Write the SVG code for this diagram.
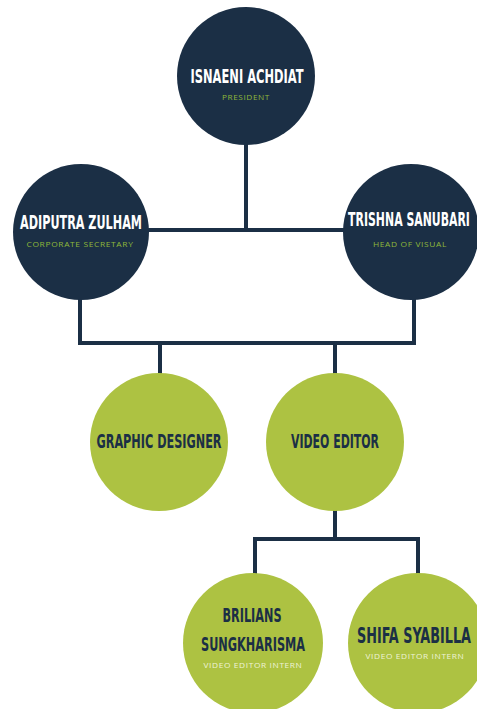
<svg xmlns="http://www.w3.org/2000/svg" width="477" height="709" viewBox="0 0 477 709">
<style>
.dark{fill:#1b2f45}
.lime{fill:#adc242}
.conn{fill:none;stroke:#1b2f45;stroke-width:4;stroke-linejoin:miter;stroke-linecap:square}
.name{font-family:"DejaVu Sans Condensed","DejaVu Sans",sans-serif;font-weight:bold;text-anchor:middle}
.nw{fill:#ffffff}
.nd{fill:#1b2f45}
.sub{font-family:"Open Sans","Liberation Sans",sans-serif;font-size:8px;text-anchor:middle;letter-spacing:0.6px}
.sg{fill:#8fb83a}
.sw{fill:#eef3d8}
</style>
<g id="connectors">
<path class="conn" d="M246 140 V230 M150 230 H345"/>
<path class="conn" d="M80 295 V343 H414 V295 M160 343 V373 M335 343 V373"/>
<path class="conn" d="M335 505 V539 M255 573 V539 H418 V573"/>
</g>
<g id="node-president">
<circle class="dark" cx="246" cy="76" r="69"/>
<text class="name nw" x="247" y="83" font-size="20" textLength="113" lengthAdjust="spacingAndGlyphs">ISNAENI ACHDIAT</text>
<text class="sub sg" x="246" y="100" textLength="48" lengthAdjust="spacingAndGlyphs">PRESIDENT</text>
</g>
<g id="node-corporate-secretary">
<circle class="dark" cx="81" cy="232" r="68"/>
<text class="name nw" x="81" y="229" font-size="20" textLength="122" lengthAdjust="spacingAndGlyphs">ADIPUTRA ZULHAM</text>
<text class="sub sg" x="80" y="247" textLength="107" lengthAdjust="spacingAndGlyphs">CORPORATE SECRETARY</text>
</g>
<g id="node-head-of-visual">
<circle class="dark" cx="411" cy="232" r="68"/>
<text class="name nw" transform="translate(409 226) scale(0.6 1)" x="0" y="0" font-size="19" textLength="203" lengthAdjust="spacingAndGlyphs">TRISHNA SANUBARI</text>
<text class="sub sg" x="410" y="247" textLength="74" lengthAdjust="spacingAndGlyphs">HEAD OF VISUAL</text>
</g>
<g id="node-graphic-designer">
<circle class="lime" cx="159" cy="442" r="69"/>
<text class="name nd" x="159" y="448" font-size="20" textLength="125" lengthAdjust="spacingAndGlyphs">GRAPHIC DESIGNER</text>
</g>
<g id="node-video-editor">
<circle class="lime" cx="335" cy="442" r="69"/>
<text class="name nd" x="335" y="448" font-size="20" textLength="88" lengthAdjust="spacingAndGlyphs">VIDEO EDITOR</text>
</g>
<g id="node-brilians">
<circle class="lime" cx="253" cy="643" r="70"/>
<text class="name nd" x="252" y="622" font-size="20" textLength="59" lengthAdjust="spacingAndGlyphs">BRILIANS</text>
<text class="name nd" x="253" y="651" font-size="20" textLength="104" lengthAdjust="spacingAndGlyphs">SUNGKHARISMA</text>
<text class="sub sw" x="253" y="668" textLength="99" lengthAdjust="spacingAndGlyphs">VIDEO EDITOR INTERN</text>
</g>
<g id="node-shifa">
<circle class="lime" cx="418" cy="643" r="70"/>
<text class="name nd" transform="translate(414 643) scale(0.6 1)" x="0" y="0" font-size="21" textLength="190" lengthAdjust="spacingAndGlyphs">SHIFA SYABILLA</text>
<text class="sub sw" x="415" y="659" textLength="99" lengthAdjust="spacingAndGlyphs">VIDEO EDITOR INTERN</text>
</g>
</svg>
